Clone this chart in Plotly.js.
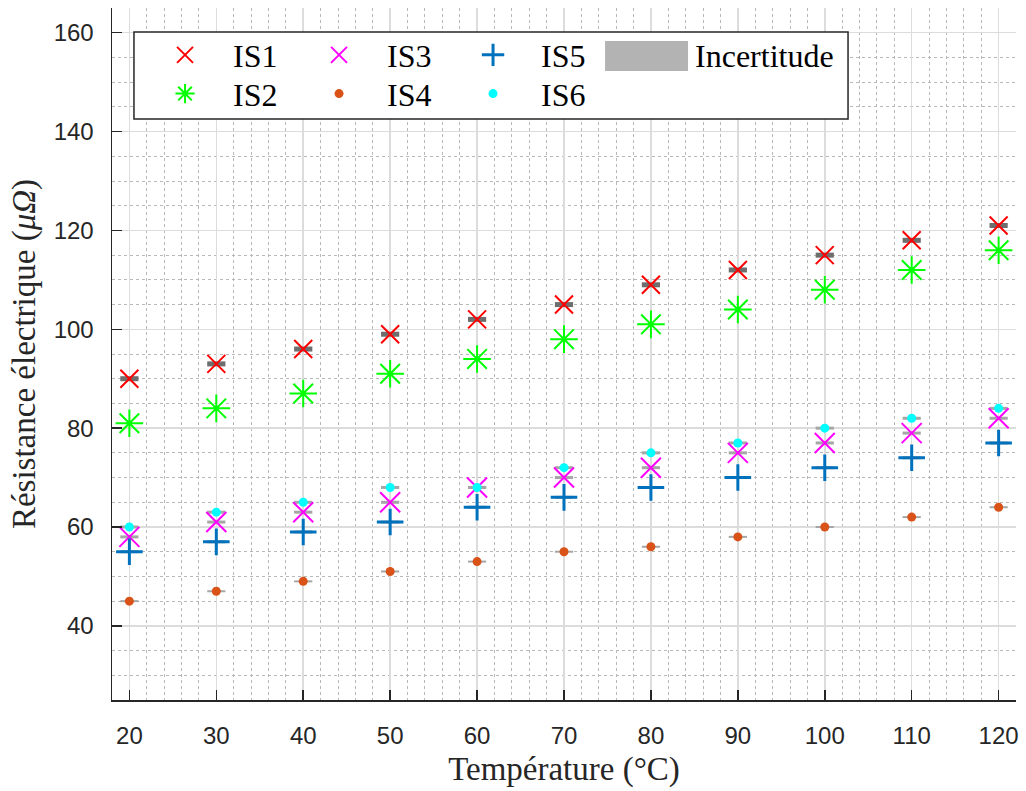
<!DOCTYPE html>
<html><head><meta charset="utf-8">
<script src="https://cdn.plot.ly/plotly-3.0.1.min.js"></script>
<style>html,body{margin:0;padding:0;background:#fff}#chart{width:1026px;height:791px}</style>
</head><body><div id="chart"></div>
<script>
// ---- data ----
const temperatures = [20, 30, 40, 50, 60, 70, 80, 90, 100, 110, 120];
const is1 = [90, 93, 96, 99, 102, 105, 109, 112, 115, 118, 121];
const is2 = [81, 84, 87, 91, 94, 98, 101, 104, 108, 112, 116];
const is3 = [58, 61, 63, 65, 68, 70, 72, 75, 77, 79, 82];
const is4 = [45, 47, 49, 51, 53, 55, 56, 58, 60, 62, 64];
const is5 = [55, 57, 59, 61, 64, 66, 68, 70, 72, 74, 77];
const is6 = [60, 63, 65, 68, 68, 72, 75, 77, 80, 82, 84];
const seriesNames = ['IS1', 'IS2', 'IS3', 'IS4', 'IS5', 'IS6'];
const uncertaintyName = 'Incertitude';
const xTitle = 'Température (°C)';
const yTitle = 'Résistance électrique (<i>μΩ</i>)';

// ---- styling ----
const serif = 'Liberation Serif, Times New Roman, serif';
const sans = 'Liberation Sans, Arial, sans-serif';
const axisColor = '#262626';

function bars(y, color, width) {
  return {type: 'scatter', mode: 'markers', x: temperatures, y: y, showlegend: false, hoverinfo: 'skip',
    marker: {symbol: 'line-ew', size: 13, color: color, line: {color: color, width: width}}};
}
function series(y, name, legend, marker) {
  return {type: 'scatter', mode: 'markers', x: temperatures, y: y, name: name, legend: legend, marker: marker};
}

const data = [
  bars(is1, '#6e6e6e', 5),
  bars(is3, '#a6a6a6', 3),
  bars(is4, '#a6a6a6', 2),
  bars(is5, '#a6a6a6', 3),
  bars(is6, '#a6a6a6', 3),
  series(is1, seriesNames[0], 'legend', {symbol: 'x-thin', size: 18, color: '#ff0000', line: {color: '#ff0000', width: 2}}),
  series(is2, seriesNames[1], 'legend2', {symbol: 'asterisk', size: 23, color: '#00ff00', line: {color: '#00ff00', width: 2}}),
  series(is3, seriesNames[2], 'legend', {symbol: 'x-thin', size: 20, color: '#ff00ff', line: {color: '#ff00ff', width: 2}}),
  series(is4, seriesNames[3], 'legend2', {symbol: 'circle', size: 9, color: '#d95319', line: {width: 0}}),
  series(is5, seriesNames[4], 'legend', {symbol: 'cross-thin', size: 19, color: '#0072bd', line: {color: '#0072bd', width: 3}}),
  series(is6, seriesNames[5], 'legend2', {symbol: 'circle', size: 9, color: '#00ffff', line: {width: 0}}),
  {type: 'scatter', mode: 'markers', x: [null], y: [null], name: uncertaintyName, legend: 'legend', legendwidth: 160,
    hoverinfo: 'skip', marker: {size: 2, color: 'rgba(0,0,0,0)'}}
];

const legendBase = {
  orientation: 'h', xanchor: 'left', yanchor: 'middle', x: 0.0277,
  bgcolor: 'rgba(0,0,0,0)', borderwidth: 0,
  font: {family: serif, size: 32, color: '#000'},
  itemwidth: 86, entrywidth: 53, entrywidthmode: 'pixels',
  itemclick: false, itemdoubleclick: false
};

const layout = {
  width: 1026, height: 791,
  margin: {l: 112, r: 10, t: 8, b: 91},
  paper_bgcolor: '#fff', plot_bgcolor: '#fff',
  showlegend: true,
  legend: Object.assign({}, legendBase, {y: 0.9320}),
  legend2: Object.assign({}, legendBase, {y: 0.8760}),
  xaxis: {
    range: [18, 122], tick0: 0, dtick: 10, showgrid: true, gridcolor: '#dcdcdc', gridwidth: 1.5,
    zeroline: false, showline: true, linecolor: axisColor, linewidth: 1.5, mirror: false,
    ticks: 'inside', ticklen: 10, tickwidth: 1.5, tickcolor: axisColor, ticklabelstandoff: 14,
    tickfont: {family: sans, size: 24, color: axisColor},
    minor: {tick0: 0, dtick: 2, showgrid: true, gridcolor: '#b8b8b8', griddash: 'dot', gridwidth: 1, ticks: ''},
    title: {text: xTitle, font: {family: serif, size: 33, color: axisColor}, standoff: 8}
  },
  yaxis: {
    range: [25, 165], tick0: 0, dtick: 20, showgrid: true, gridcolor: '#dcdcdc', gridwidth: 1.5,
    zeroline: false, showline: true, linecolor: axisColor, linewidth: 1.5, mirror: false,
    ticks: 'inside', ticklen: 10, tickwidth: 1.5, tickcolor: axisColor, ticklabelstandoff: 12,
    tickfont: {family: sans, size: 24, color: axisColor},
    minor: {tick0: 0, dtick: 5, showgrid: true, gridcolor: '#b8b8b8', griddash: 'dot', gridwidth: 1, ticks: ''},
    title: {text: yTitle, font: {family: serif, size: 33, color: axisColor}, standoff: 8}
  },
  shapes: [
    {type: 'rect', xref: 'paper', yref: 'paper', x0: 0.0243, x1: 0.8142, y0: 0.8396, y1: 0.9653,
      fillcolor: '#ffffff', line: {color: '#262626', width: 1.5}, layer: 'above'},
    {type: 'rect', xref: 'paper', yref: 'paper', x0: 0.5454, x1: 0.6372, y0: 0.909, y1: 0.9523,
      fillcolor: '#b3b3b3', line: {width: 0}, layer: 'above'}
  ]
};

Plotly.newPlot('chart', data, layout, {displayModeBar: false, staticPlot: true});
</script>
</body></html>
